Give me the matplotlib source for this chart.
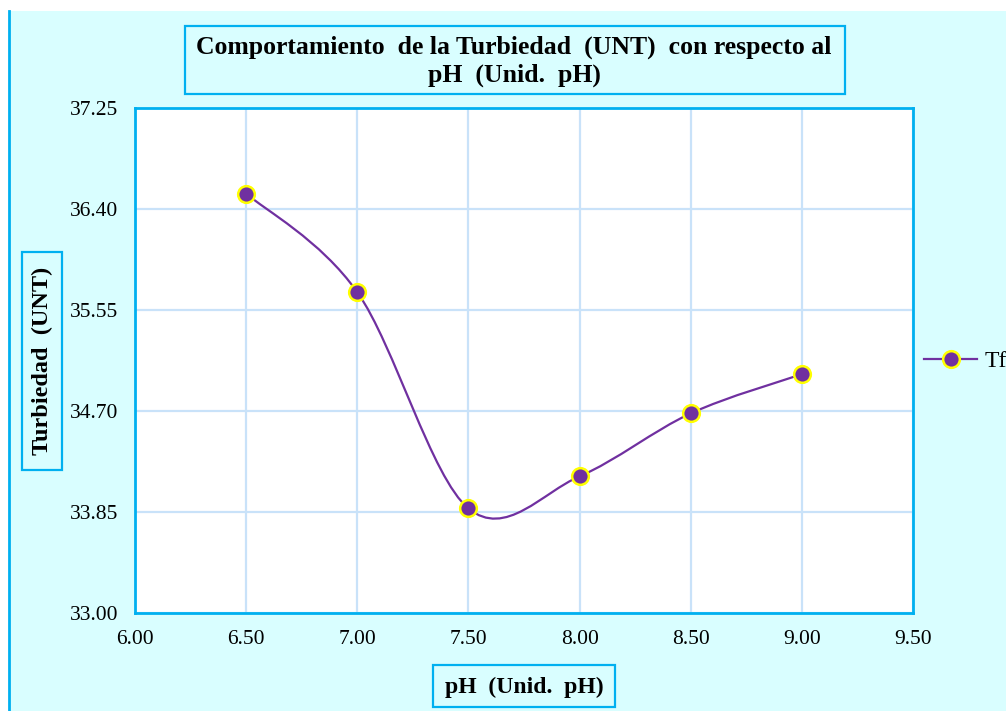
import numpy as np
import matplotlib
matplotlib.use("Agg")
import matplotlib.pyplot as plt
from matplotlib.path import Path
from matplotlib.patches import PathPatch, Rectangle
from matplotlib.lines import Line2D

ph = [6.5, 7.0, 7.5, 8.0, 8.5, 9.0]
turbiedad = [36.53, 35.70, 33.88, 34.15, 34.68, 35.01]
x_ticks = [6.00, 6.50, 7.00, 7.50, 8.00, 8.50, 9.00, 9.50]
y_ticks = [33.00, 33.85, 34.70, 35.55, 36.40, 37.25]

CYAN = "#00B0F0"
BG = "#D9FEFF"
GRID = "#C9E2F9"
PURPLE = "#7030A0"
YELLOW = "#FFFF00"

plt.rcParams["font.family"] = ["Liberation Serif", "DejaVu Serif"]

fig = plt.figure(figsize=(10.06, 7.11), dpi=100)
W, H = 1006, 711

def fx(px):
    return px / W

def fy(py):
    return 1 - py / H

# chart area background and left border
fig.patches.append(Rectangle((fx(9), 0), 1, fy(11), transform=fig.transFigure,
                             facecolor=BG, edgecolor="none", zorder=-10))
fig.add_artist(Line2D([fx(9), fx(9)], [0, fy(11)], color=CYAN, lw=2))

ax = fig.add_axes([fx(135), fy(613), fx(913) - fx(135), fy(108) - fy(613)], zorder=1)
ax.set_facecolor("white")
ax.set_xlim(6.0, 9.5)
ax.set_ylim(33.0, 37.25)
ax.set_xticks(x_ticks)
ax.set_yticks(y_ticks)
ax.set_xticklabels([f"{v:.2f}" for v in x_ticks])
ax.set_yticklabels([f"{v:.2f}" for v in y_ticks])
ax.tick_params(length=0, labelsize=15.5, pad=12)
ax.grid(True, color=GRID, lw=1.6)
ax.set_axisbelow(True)
for s in ax.spines.values():
    s.set_color(CYAN)
    s.set_linewidth(2)

# smoothed line (Excel-style bezier)
pts = np.column_stack([ph, turbiedad])
verts = [tuple(pts[0])]
codes = [Path.MOVETO]
n = len(pts)
for i in range(n - 1):
    p0 = pts[max(i - 1, 0)]
    p1 = pts[i]
    p2 = pts[i + 1]
    p3 = pts[min(i + 2, n - 1)]
    c1 = p1 + (p2 - p0) / 6
    c2 = p2 - (p3 - p1) / 6
    verts += [tuple(c1), tuple(c2), tuple(p2)]
    codes += [Path.CURVE4] * 3
ax.add_patch(PathPatch(Path(verts, codes), facecolor="none", edgecolor=PURPLE, lw=1.6, zorder=3))
ax.plot(ph, turbiedad, ls="none", marker="o", ms=12, mfc=PURPLE, mec=YELLOW, mew=1.8, zorder=4)

# title box
fig.patches.append(Rectangle((fx(185), fy(94)), fx(845) - fx(185), fy(26) - fy(94),
                             transform=fig.transFigure, facecolor="none", edgecolor=CYAN, lw=1.6))
fig.text(fx(514), fy(61), "Comportamiento  de la Turbiedad  (UNT)  con respecto al\npH  (Unid.  pH)",
         ha="center", va="center", fontsize=18.5, fontweight="bold", linespacing=1.25)

# y label box
fig.patches.append(Rectangle((fx(22), fy(470)), fx(62) - fx(22), fy(252) - fy(470),
                             transform=fig.transFigure, facecolor="none", edgecolor=CYAN, lw=1.6))
fig.text(fx(42), fy(361), "Turbiedad  (UNT)", rotation=90, ha="center", va="center",
         fontsize=17.5, fontweight="bold")

# x label box
fig.patches.append(Rectangle((fx(433), fy(707)), fx(615) - fx(433), fy(665) - fy(707),
                             transform=fig.transFigure, facecolor="none", edgecolor=CYAN, lw=1.6))
fig.text(fx(524), fy(687), "pH  (Unid.  pH)", ha="center", va="center",
         fontsize=17, fontweight="bold")

# legend, partly outside the picture
handle = Line2D([], [], color=PURPLE, lw=1.6, marker="o", ms=12, mfc=PURPLE, mec=YELLOW, mew=1.8)
fig.legend([handle], ["Tf"], loc="center left", bbox_to_anchor=(fx(924), fy(361)),
           frameon=False, fontsize=17, handlelength=2.25, handletextpad=0.3, borderaxespad=0,
           borderpad=0)

fig.savefig("out.png", dpi=100, facecolor="white")
